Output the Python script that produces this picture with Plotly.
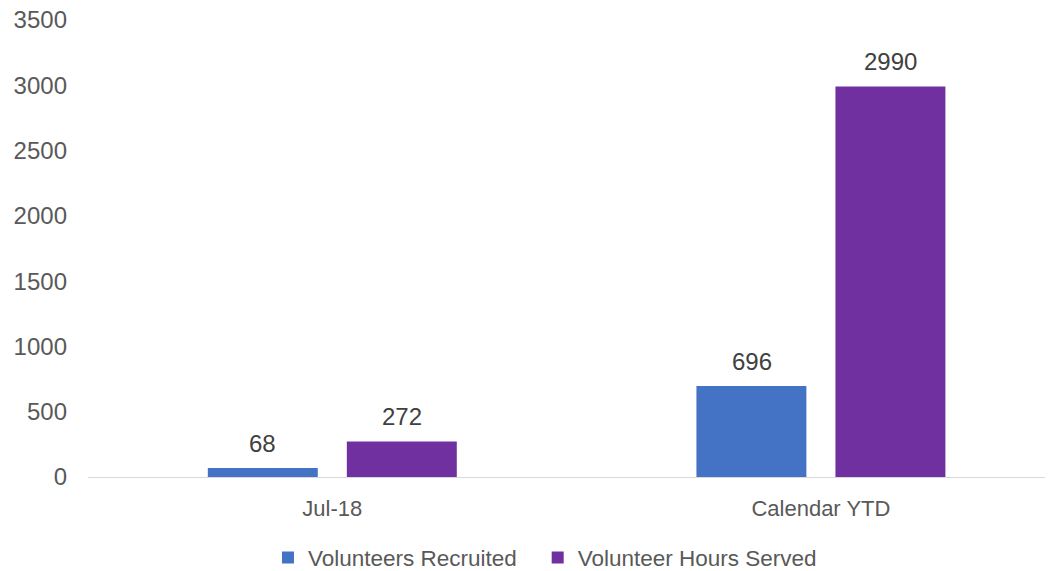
import plotly.graph_objects as go

categories = ["Jul-18", "Calendar YTD"]
recruited = [68, 696]
hours = [272, 2990]
series_names = ["Volunteers Recruited", "Volunteer Hours Served"]
colors = ["#4472C4", "#7030A0"]
y_ticks = [0, 500, 1000, 1500, 2000, 2500, 3000, 3500]

FONT = "Liberation Sans"
legend_ids = ["legend", "legend2"]
fig = go.Figure()
for name, vals, col, lg in zip(series_names, [recruited, hours], colors, legend_ids):
    fig.add_trace(go.Bar(x=categories, y=vals, name=name,
                         marker=dict(color=col, line=dict(width=0)),
                         offsetgroup=name, legend=lg))

# data labels as annotations, positioned by the data scale
offsets = [-0.142, 0.142]
for off, vals in zip(offsets, [recruited, hours]):
    for i, v in enumerate(vals):
        fig.add_annotation(x=i + off, y=v, text=str(v), showarrow=False,
                           yanchor="middle", yshift=25,
                           font=dict(family=FONT, size=24, color="#404040"))

leg_common = dict(orientation="h", xanchor="left", y=-0.177, yanchor="middle",
                  font=dict(family=FONT, size=22.5, color="#595959"),
                  itemwidth=30, bgcolor="rgba(0,0,0,0)")
fig.update_layout(
    width=1045, height=563,
    margin=dict(l=80, r=0, t=12, b=94, autoexpand=False),
    paper_bgcolor="white", plot_bgcolor="white",
    barmode="group", bargap=0.431, bargroupgap=0.209,
    font=dict(family=FONT, size=22, color="#595959"),
    showlegend=True,
    legend=dict(x=0.1865, **leg_common),
    legend2=dict(x=0.466, **leg_common),
)
fig.update_xaxes(range=[-0.5, 1.475], showline=True, linecolor="#D9D9D9", linewidth=1,
                 showgrid=False, ticks="", ticklabelstandoff=12, automargin=False,
                 tickfont=dict(family=FONT, size=22, color="#595959"))
fig.update_yaxes(range=[0, 3500], tickvals=y_ticks, showgrid=False, zeroline=False,
                 showline=False, ticks="", ticklabelstandoff=20, automargin=False,
                 ticklabeloverflow="allow",
                 tickfont=dict(family=FONT, size=24, color="#595959"))

fig.write_html("out.html")
